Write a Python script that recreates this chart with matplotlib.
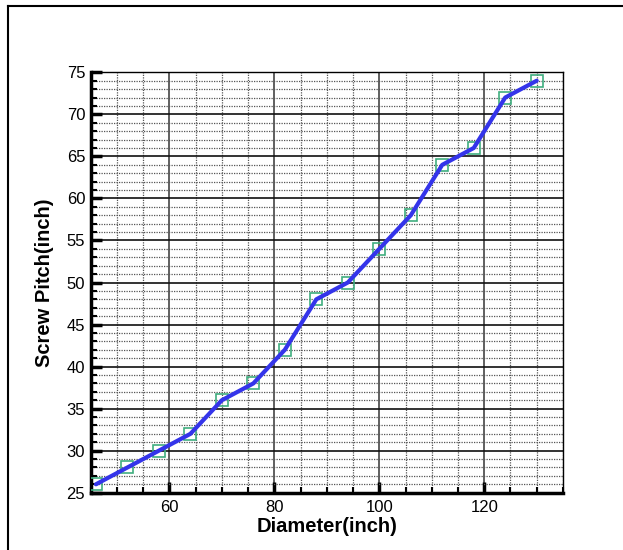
import matplotlib
matplotlib.use("Agg")
import matplotlib.pyplot as plt
from matplotlib.lines import Line2D
from matplotlib.ticker import MultipleLocator

# data
diameter = [46, 52, 58, 64, 70, 76, 82, 88, 94, 100, 106, 112, 118, 124, 130]
pitch = [26, 28, 30, 32, 36, 38, 42, 48, 50, 54, 58, 64, 66, 72, 74]

x_ticks = [60, 80, 100, 120]
y_ticks = [25, 30, 35, 40, 45, 50, 55, 60, 65, 70, 75]

plt.rcParams["font.family"] = ["Liberation Sans", "DejaVu Sans"]

fig = plt.figure(figsize=(6.23, 5.5), dpi=100)
ax = fig.add_axes([0.1456, 0.1042, 0.758, 0.7643])

# frame lines (top and left edge of the picture)
fig.add_artist(Line2D([8 / 623, 1], [1 - 6 / 550, 1 - 6 / 550], color="black", lw=1.5))
fig.add_artist(Line2D([8 / 623, 8 / 623], [0, 1 - 6 / 550], color="black", lw=1.5))

ax.plot(diameter, pitch, linestyle="none", marker="s", markersize=9,
        markerfacecolor="none", markeredgecolor="#3fae7f", markeredgewidth=1.2, zorder=3)
ax.plot(diameter, pitch, color="#3434ea", lw=3, solid_capstyle="round", zorder=4)

ax.set_xlim(45, 135)
ax.set_ylim(25, 75)
ax.set_xticks(x_ticks)
ax.set_yticks(y_ticks)
ax.xaxis.set_minor_locator(MultipleLocator(5))
ax.yaxis.set_minor_locator(MultipleLocator(1))

ax.grid(True, which="major", axis="y", color="#111111", lw=1.2, zorder=1)
ax.grid(True, which="major", axis="x", color="#444444", lw=1.2, zorder=1)
ax.grid(True, which="minor", color="#555555", lw=0.9, linestyle=(0, (1, 1)), zorder=0)
ax.set_axisbelow(True)

ax.tick_params(which="major", direction="in", length=8, width=2.5, labelsize=12,
               top=False, right=False)
ax.tick_params(axis="y", which="major", pad=4)
ax.tick_params(axis="x", which="major", pad=5)
ax.tick_params(which="minor", direction="in", length=4, width=1.5, top=False, right=False)

for side in ["left", "bottom"]:
    ax.spines[side].set_linewidth(2.5)
for side in ["top", "right"]:
    ax.spines[side].set_linewidth(1.0)

ax.set_xlabel("Diameter(inch)", fontsize=14.5, fontweight="bold")
ax.set_ylabel("Screw Pitch(inch)", fontsize=14.5, fontweight="bold")
ax.xaxis.label.set_va("center")
ax.yaxis.label.set_va("center")
ax.xaxis.set_label_coords(0.5, -0.08)
ax.yaxis.set_label_coords(-0.097, 0.5)

fig.savefig("out.png", dpi=100)
